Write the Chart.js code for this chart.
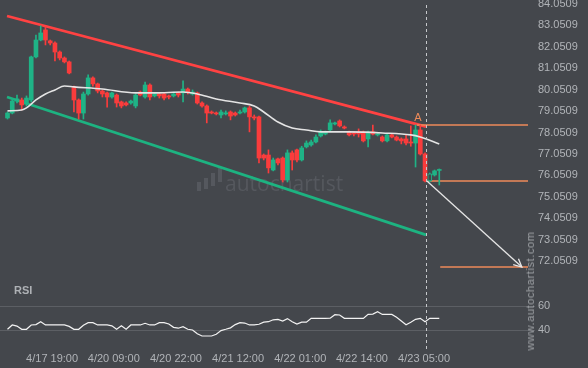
<!DOCTYPE html>
<html>
<head>
<meta charset="utf-8">
<script src="https://cdn.jsdelivr.net/npm/chart.js@4.4.0/dist/chart.umd.min.js"></script>
<style>
  html, body { margin: 0; padding: 0; background: #44474c; }
  #wrap { position: relative; width: 588px; height: 368px; overflow: hidden; background: #44474c; }
  #main { position: absolute; left: 0; top: 0; }
  #rsi { position: absolute; left: 0; top: 280px; }
  #site {
    position: absolute; left: 530px; top: 291px; white-space: nowrap;
    transform: translate(-50%, -50%) rotate(-90deg);
    font: 11px "Liberation Sans", Arial, sans-serif; color: #9fa2a6; letter-spacing: 0.6px;
  }
</style>
</head>
<body>
<div id="wrap">
  <canvas id="main" width="588" height="280"></canvas>
  <canvas id="rsi" width="588" height="88"></canvas>
  <div id="site">www.autochartist.com</div>
</div>
<script>
// time labels and where they sit (candle index)
var timeLabels = ['4/17 19:00', '4/20 09:00', '4/20 22:00', '4/21 12:00', '4/22 01:00', '4/22 14:00', '4/23 05:00'];
var timeIdx = [9.4, 22.4, 35.5, 48.6, 61.7, 74.7, 87.8];
var priceTicks = [84.0509, 83.0509, 82.0509, 81.0509, 80.0509, 79.0509, 78.0509, 77.0509, 76.0509, 75.0509, 74.0509, 73.0509, 72.0509];
var rsiTicks = [40, 60];

var open = [78.73,78.96,79.52,79.57,79.38,79.57,81.58,82.37,82.84,82.33,
  82.23,81.81,81.53,81.35,80.18,79.57,78.96,79.85,80.60,80.32,
  79.99,79.90,79.71,79.80,79.48,79.43,79.43,79.29,79.94,79.71,
  80.27,79.76,79.85,79.85,79.76,79.76,79.90,79.90,80.08,79.85,
  79.90,79.43,79.29,79.01,78.96,78.87,78.92,79.01,78.96,78.96,
  79.01,79.20,78.78,78.78,77.00,77.00,76.30,76.82,76.86,75.84,
  77.10,77.24,76.77,77.38,77.47,77.61,77.89,77.98,78.17,78.45,
  78.59,78.31,78.08,78.03,78.08,78.08,77.75,78.08,77.94,77.84,
  77.66,77.94,77.84,77.75,77.75,77.61,77.56,78.17,77.05,75.79,
  76.07,76.28];
var high = [79.01,79.57,79.80,79.66,79.76,81.62,82.60,83.03,82.98,82.37,
  82.28,81.86,81.58,81.39,80.22,79.62,79.94,80.74,80.65,80.36,
  80.04,79.94,79.94,79.85,79.52,79.48,79.57,79.85,79.99,80.41,
  80.32,79.90,79.90,79.90,79.80,79.94,79.94,80.46,80.13,80.04,
  79.94,79.48,79.34,79.06,79.01,79.10,79.06,79.06,79.01,79.10,
  79.24,79.29,78.87,78.82,77.05,77.24,76.86,76.86,76.91,77.24,
  77.19,77.28,77.41,77.66,77.70,77.94,78.17,78.12,78.64,78.54,
  78.64,78.36,78.12,78.08,78.22,78.12,78.12,78.40,78.03,77.89,
  77.98,77.98,77.89,77.80,77.94,78.36,78.40,78.40,77.10,76.16,
  76.30,76.35];
var low = [78.68,78.92,79.43,79.10,79.29,79.48,81.53,82.33,82.14,82.14,
  81.39,81.44,81.30,80.79,79.01,78.68,78.68,79.80,80.22,79.90,
  79.71,79.24,79.66,79.24,79.20,79.29,79.38,79.20,79.76,79.66,
  79.57,79.71,79.66,79.57,79.62,79.71,79.71,79.48,79.85,79.80,
  79.38,79.24,78.50,78.92,78.87,78.73,78.87,78.64,78.82,78.92,
  78.96,78.08,78.64,76.63,76.77,76.16,76.26,76.54,75.74,75.74,
  76.30,76.68,76.72,77.33,77.41,77.56,77.84,77.94,78.12,78.40,
  78.31,78.22,77.89,77.89,77.84,77.61,77.38,77.94,77.89,77.61,
  77.61,77.80,77.66,77.52,77.47,77.41,76.44,77.00,75.74,75.74,
  76.02,75.60];
var close = [78.96,79.52,79.62,79.34,79.66,81.58,82.37,82.70,82.37,82.23,
  81.81,81.53,81.35,80.83,79.57,78.96,79.85,80.60,80.32,79.99,
  79.85,79.71,79.90,79.43,79.29,79.34,79.52,79.80,79.80,80.27,
  79.71,79.85,79.76,79.66,79.71,79.85,79.80,80.08,79.94,79.94,
  79.43,79.29,78.96,78.96,78.92,79.01,78.96,78.82,78.87,79.01,
  79.20,78.78,78.73,76.86,76.86,76.40,76.77,76.63,75.84,77.10,
  76.77,76.77,77.33,77.56,77.61,77.84,78.08,78.08,78.50,78.50,
  78.36,78.26,77.94,77.98,77.98,77.66,78.08,77.98,77.98,77.66,
  77.94,77.84,77.70,77.66,77.56,77.56,78.17,77.05,75.79,76.12,
  76.26,76.30];
var hollowIdx = [89];

// moving average, read at a few candles
var maIdx = [0, 3, 4, 6, 8, 10, 12, 14, 20, 27, 31, 37, 40, 44, 49, 52, 54, 57, 60, 63, 66, 72, 79, 85, 87, 91];
var maVal = [79.06, 79.10, 79.20, 79.57, 79.85, 80.04, 80.22, 80.18, 80.08, 79.90, 79.90, 79.94, 79.85, 79.62, 79.43, 79.29, 79.01, 78.54, 78.26, 78.17, 78.08, 78.08, 78.03, 77.94, 77.84, 77.52];

var rsi = [40.6,44.2,43.3,40.6,40.6,44.2,44.5,46.9,44.2,44.2,
  44.2,44.2,44.2,43.0,40.6,40.6,44.0,46.1,46.1,44.2,
  44.2,44.2,43.5,40.6,43.5,40.6,44.2,44.2,44.2,45.6,
  44.2,44.2,46.1,46.1,45.0,42.2,41.5,42.8,40.6,40.0,
  36.8,35.0,35.0,35.0,36.5,39.5,40.6,41.8,44.5,46.1,
  45.8,44.2,44.2,44.8,46.5,46.9,48.5,48.8,47.5,49.5,
  46.9,45.0,46.6,46.5,49.7,49.7,49.7,49.7,49.9,52.8,
  52.5,49.7,49.7,49.7,49.7,49.7,53.0,53.3,55.2,53.0,
  53.0,53.0,50.7,47.5,44.4,46.4,48.9,49.7,46.9,49.7,
  49.7,49.7];

// channel, levels and forecast arrow
var resistIdx = [-0.1, 88.2], resistVal = [83.49, 78.33];
var supportIdx = [-0.1, 88.2], supportVal = [79.71, 73.27];
var levelVal = [78.40, 75.79, 71.77];
var levelFrom = [86.3, 88.6, 91.2];
var arrowIdx = [88.4, 108.4], arrowVal = [75.79, 71.77];
var patternIdx = 88.2;

var xMin = -1.58, xMax = 109.7;
var BG = '#44474c', GREEN = '#1fb386', RED = '#fa3c3c', ORANGE = '#ee8a5a', LABEL = '#b1b4b8';
var FONT = '"Liberation Sans", Arial, sans-serif';

var bodyColor = open.map(function(o, i) { return close[i] >= o ? GREEN : RED; });
var bodyFill = bodyColor.map(function(c, i) { return hollowIdx.indexOf(i) >= 0 ? BG : c; });
var bodyBorder = open.map(function(o, i) { return hollowIdx.indexOf(i) >= 0 ? 1 : 0; });

function pts(xs, ys) { return xs.map(function(x, i) { return { x: x, y: ys[i] }; }); }

var dashLine = {
  id: 'dashLine',
  afterDatasetsDraw: function(chart, args, opts) {
    var ctx = chart.ctx;
    var x = Math.round(chart.scales.x.getPixelForValue(patternIdx)) + 0.5;
    ctx.save();
    ctx.strokeStyle = '#c6c8cb';
    ctx.lineWidth = 1;
    ctx.setLineDash([3, 3]);
    ctx.beginPath();
    ctx.moveTo(x, opts.top);
    ctx.lineTo(x, opts.bottom);
    ctx.stroke();
    ctx.restore();
  }
};

var decor = {
  id: 'decor',
  beforeDatasetsDraw: function(chart) {
    var ctx = chart.ctx;
    ctx.save();
    // watermark
    ctx.fillStyle = '#55585e';
    var bx = [199, 206, 213, 220], bt = [182, 178, 173, 168], bb = [191, 189, 186, 182];
    for (var k = 0; k < bx.length; k++) ctx.fillRect(bx[k] - 2, bt[k], 4, bb[k] - bt[k]);
    ctx.font = '21px "Open Sans", ' + FONT;
    ctx.textBaseline = 'alphabetic';
    ctx.fillText('autochartist', 225, 191);
    ctx.restore();
  },
  afterDatasetsDraw: function(chart) {
    var ctx = chart.ctx, xs = chart.scales.x, ys = chart.scales.y;
    ctx.save();
    // arrow head
    var x1 = xs.getPixelForValue(arrowIdx[0]), y1 = ys.getPixelForValue(arrowVal[0]);
    var x2 = xs.getPixelForValue(arrowIdx[1]), y2 = ys.getPixelForValue(arrowVal[1]);
    var a = Math.atan2(y2 - y1, x2 - x1);
    ctx.strokeStyle = '#e6e6e6';
    ctx.lineWidth = 1.3;
    ctx.beginPath();
    ctx.moveTo(x2 - 9 * Math.cos(a - 0.45), y2 - 9 * Math.sin(a - 0.45));
    ctx.lineTo(x2, y2);
    ctx.lineTo(x2 - 9 * Math.cos(a + 0.45), y2 - 9 * Math.sin(a + 0.45));
    ctx.stroke();
    // "A" marker
    ctx.fillStyle = ORANGE;
    ctx.font = '11px ' + FONT;
    ctx.textAlign = 'center';
    ctx.textBaseline = 'bottom';
    ctx.fillText('A', xs.getPixelForValue(86.5), ys.getPixelForValue(levelVal[0]) - 2);
    ctx.restore();
  }
};

var candleData = open.map(function(o, i) { return { x: i, y: [o, close[i]] }; });
var wickData = open.map(function(o, i) { return { x: i, y: [low[i], high[i]] }; });

var levelSets = levelVal.map(function(v, i) {
  return {
    type: 'line', data: [{ x: levelFrom[i], y: v }, { x: xMax, y: v }],
    borderColor: ORANGE, borderWidth: 1.4, pointRadius: 0, order: 4
  };
});

new Chart(document.getElementById('main'), {
  type: 'bar',
  data: {
    datasets: [
      { type: 'line', data: pts(resistIdx, resistVal), borderColor: '#ff4242', borderWidth: 2.8, pointRadius: 0, order: 6 },
      { type: 'line', data: pts(supportIdx, supportVal), borderColor: '#1db381', borderWidth: 2.8, pointRadius: 0, order: 6 },
      { data: wickData, backgroundColor: bodyColor, barThickness: 1, grouped: false, minBarLength: 1, order: 3 },
      { data: candleData, backgroundColor: bodyFill, borderColor: bodyColor, borderWidth: bodyBorder,
        borderSkipped: false, barThickness: 4, grouped: false, minBarLength: 1, order: 2 },
      { type: 'line', data: pts(maIdx, maVal), borderColor: '#e4e4e4', borderWidth: 1.6, pointRadius: 0,
        cubicInterpolationMode: 'monotone', order: 1 },
      { type: 'line', data: pts(arrowIdx, arrowVal), borderColor: '#e6e6e6', borderWidth: 1.3, pointRadius: 0, order: 0 }
    ].concat(levelSets)
  },
  options: {
    responsive: false,
    animation: false,
    layout: { padding: 0 },
    plugins: { legend: { display: false }, tooltip: { enabled: false }, dashLine: { top: 5, bottom: 280 } },
    scales: {
      x: { type: 'linear', min: xMin, max: xMax, offset: false, display: false },
      y: {
        type: 'linear', position: 'right', min: 71.1656, max: 84.2376,
        afterBuildTicks: function(s) { s.ticks = priceTicks.map(function(v) { return { value: v }; }); },
        afterFit: function(s) { s.width = 60; s.paddingTop = 0; s.paddingBottom = 0; },
        grid: { display: false, drawTicks: false },
        border: { display: false },
        ticks: { color: LABEL, padding: 10, font: { family: FONT, size: 11 },
          callback: function(v) { return v.toFixed(4); } }
      }
    }
  },
  plugins: [decor, dashLine]
});

var rsiLabel = {
  id: 'rsiLabel',
  afterDraw: function(chart) {
    var ctx = chart.ctx;
    ctx.save();
    ctx.fillStyle = '#aeb1b5';
    ctx.font = 'bold 11px ' + FONT;
    ctx.textBaseline = 'middle';
    ctx.fillText('RSI', 14, 11);
    ctx.restore();
  }
};

new Chart(document.getElementById('rsi'), {
  type: 'line',
  data: {
    datasets: [
      { data: rsi.map(function(v, i) { return { x: i, y: v }; }), borderColor: '#f2f2f2', borderWidth: 1.2, pointRadius: 0, tension: 0 }
    ]
  },
  options: {
    responsive: false,
    animation: false,
    layout: { padding: 0 },
    plugins: { legend: { display: false }, tooltip: { enabled: false }, dashLine: { top: 0, bottom: 70 } },
    scales: {
      x: {
        type: 'linear', min: xMin, max: xMax, offset: false,
        afterBuildTicks: function(s) { s.ticks = timeIdx.map(function(v) { return { value: v }; }); },
        afterFit: function(s) { s.height = 20; s.paddingLeft = 0; s.paddingRight = 0; },
        grid: { display: false, drawTicks: false },
        border: { display: false },
        ticks: { color: LABEL, padding: 4, autoSkip: false, maxRotation: 0, font: { family: FONT, size: 11 },
          callback: function(v) { return timeLabels[timeIdx.indexOf(v)]; } }
      },
      y: {
        type: 'linear', position: 'right', min: 25, max: 81.67,
        afterBuildTicks: function(s) { s.ticks = rsiTicks.map(function(v) { return { value: v }; }); },
        afterFit: function(s) { s.width = 60; s.paddingTop = 0; s.paddingBottom = 0; },
        grid: { color: '#5c5f64', tickLength: 7, drawTicks: true },
        border: { display: false },
        ticks: { color: LABEL, padding: 3, font: { family: FONT, size: 11 } }
      }
    }
  },
  plugins: [rsiLabel, dashLine]
});
</script>
</body>
</html>
